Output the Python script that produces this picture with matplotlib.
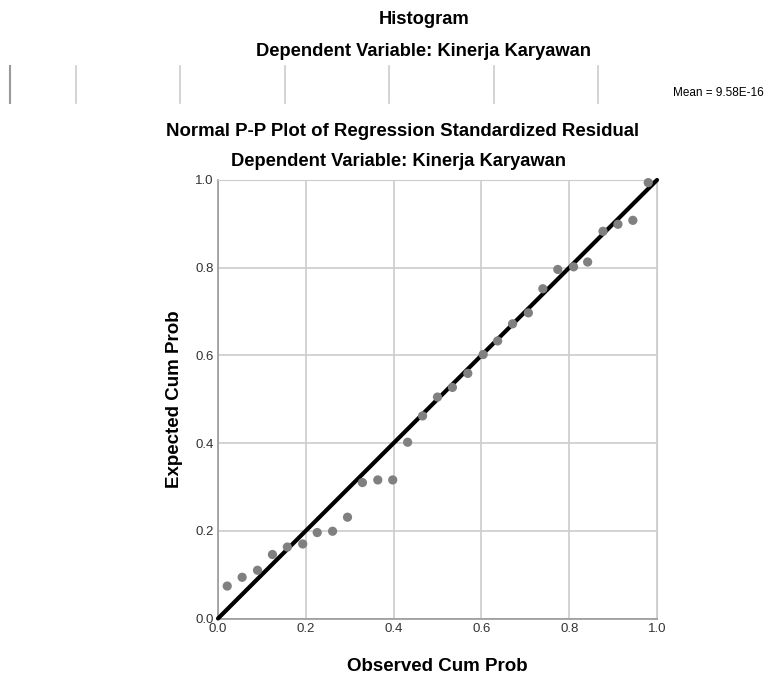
import matplotlib
matplotlib.use("Agg")
import matplotlib.pyplot as plt
from matplotlib.lines import Line2D

plt.rcParams["font.family"] = ["Liberation Sans", "DejaVu Sans"]

# observed / expected cumulative probabilities
observed = [0.021, 0.055, 0.090, 0.124, 0.158, 0.193, 0.226, 0.261, 0.295, 0.329,
            0.364, 0.398, 0.432, 0.466, 0.500, 0.534, 0.569, 0.604, 0.637, 0.671,
            0.707, 0.740, 0.774, 0.810, 0.842, 0.877, 0.911, 0.945, 0.980]
expected = [0.074, 0.094, 0.110, 0.146, 0.163, 0.170, 0.196, 0.199, 0.231, 0.310,
            0.316, 0.316, 0.402, 0.462, 0.505, 0.527, 0.559, 0.602, 0.633, 0.672,
            0.697, 0.752, 0.796, 0.802, 0.813, 0.883, 0.899, 0.908, 0.994]
ticks = [0.0, 0.2, 0.4, 0.6, 0.8, 1.0]
tick_labels = ["0.0", "0.2", "0.4", "0.6", "0.8", "1.0"]

# leftover grid lines of the clipped histogram above (x in pixels)
hist_lines_px = [10, 76, 180, 285, 389, 494, 598]

W, H = 765, 678
fig = plt.figure(figsize=(W / 100, H / 100), dpi=100)

# clipped histogram header
fig.text(424 / W, 1 - 20 / H, "Histogram", ha="center", va="center", fontsize=13.2, fontweight="bold")
fig.text(424 / W, 1 - 52 / H, "Dependent Variable: Kinerja Karyawan", ha="center", va="center",
         fontsize=13.2, fontweight="bold")
for i, px in enumerate(hist_lines_px):
    c = "#999999" if i == 0 else "#cccccc"
    fig.add_artist(Line2D([px / W, px / W], [1 - 66 / H, 1 - 103 / H], color=c, lw=1.5 if i == 0 else 1.2))
fig.text(764 / W, 1 - 93 / H, "Mean = 9.58E-16", ha="right", va="center", fontsize=8.5)

# P-P plot titles
fig.text(403 / W, 1 - 132 / H, "Normal P-P Plot of Regression Standardized Residual", ha="center",
         va="center", fontsize=13.4, fontweight="bold")
fig.text(398 / W, 1 - 162 / H, "Dependent Variable: Kinerja Karyawan", ha="center", va="center",
         fontsize=13.2, fontweight="bold")

ax = fig.add_axes([218 / W, 1 - 618.5 / H, (657 - 218) / W, (618.5 - 180) / H])
ax.set_xlim(0, 1)
ax.set_ylim(0, 1)
ax.set_xticks(ticks)
ax.set_yticks(ticks)
ax.set_xticklabels(tick_labels)
ax.set_yticklabels(tick_labels)
ax.grid(True, color="#cccccc", lw=1.2)
ax.set_axisbelow(True)
ax.tick_params(length=0, labelsize=9.5, colors="#333333", pad=3)
ax.tick_params(axis="x", pad=3)
for s in ["top", "right"]:
    ax.spines[s].set_color("#cccccc")
for s in ["left", "bottom"]:
    ax.spines[s].set_color("#999999")
    ax.spines[s].set_linewidth(1.2)

ax.plot([0, 1], [0, 1], color="black", lw=3, solid_capstyle="round", clip_on=False, zorder=3)
ax.scatter(observed, expected, s=44, color="#808080", edgecolors="none", zorder=4, clip_on=False)

ax.set_xlabel("Observed Cum Prob", fontsize=13.5, fontweight="bold", labelpad=17)
ax.set_ylabel("Expected Cum Prob", fontsize=13.5, fontweight="bold", labelpad=9)

fig.savefig("out.png", dpi=100)
